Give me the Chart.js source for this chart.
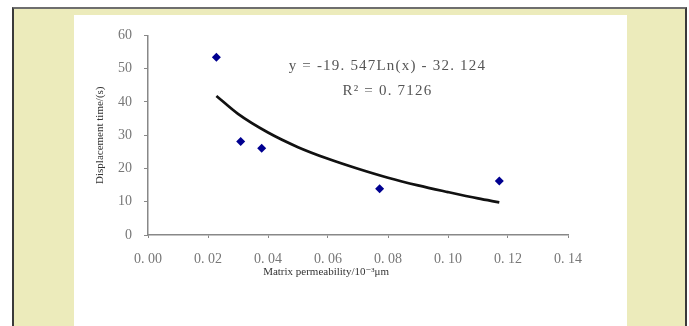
<!DOCTYPE html>
<html>
<head>
<meta charset="utf-8">
<script src="https://cdn.jsdelivr.net/npm/chart.js@4"></script>
<style>
  html, body { margin: 0; background: #fff; overflow: hidden; }
  #frame {
    position: absolute; left: 12px; top: 7px; width: 675px; height: 330px;
    box-sizing: border-box; background: #ecebbb;
    border-top: 2px solid #6e6e6e; border-left: 2px solid #3a3a3a; border-right: 2px solid #3a3a3a;
  }
  #panel { position: absolute; left: 74px; top: 15px; width: 553px; height: 311px; background: #fff; }
</style>
</head>
<body>
<div id="frame"></div>
<div id="panel"><canvas id="chart" width="553" height="311"></canvas></div>
<script>
// measured points
const permeability = [0.0228, 0.0309, 0.0379, 0.0772, 0.1171];
const displacementTime = [53.4, 28.1, 26.1, 13.9, 16.2];

// logarithmic trend line
const trendX = [0.0228, 0.03, 0.04, 0.05, 0.06, 0.07, 0.08, 0.09, 0.10, 0.11, 0.1171];
const trendY = [41.8, 36.4, 30.8, 26.4, 22.9, 19.9, 17.2, 14.9, 12.9, 11.0, 9.8];

const xTickValues = [0, 0.02, 0.04, 0.06, 0.08, 0.10, 0.12, 0.14];
const yTickValues = [0, 10, 20, 30, 40, 50, 60];

const equationText = 'y = -19. 547Ln(x) - 32. 124';
const rSquaredText = 'R² = 0. 7126';
const xTitle = 'Matrix permeability/10⁻³μm';
const yTitle = 'Displacement time/(s)';

const serif = '"Liberation Serif", "DejaVu Serif", serif';

// equation and x-axis title are placed off-centre, so draw them here
const annotationText = {
  id: 'annotationText',
  afterDraw(chart) {
    const { ctx, chartArea: a } = chart;
    const w = a.right - a.left;
    ctx.save();
    ctx.textAlign = 'center';
    ctx.textBaseline = 'middle';
    ctx.fillStyle = '#555';
    ctx.font = '15px ' + serif;
    ctx.letterSpacing = '1.2px';
    ctx.fillText(equationText, a.left + 0.57 * w, a.top + 31);
    ctx.fillText(rSquaredText, a.left + 0.57 * w, a.top + 56);
    ctx.letterSpacing = '0px';
    ctx.fillStyle = '#333';
    ctx.font = '11px ' + serif;
    ctx.fillText(xTitle, a.left + 0.424 * w, a.bottom + 37);
    ctx.restore();
  }
};

new Chart(document.getElementById('chart'), {
  type: 'scatter',
  data: {
    datasets: [
      {
        data: permeability.map((x, i) => ({ x, y: displacementTime[i] })),
        pointStyle: 'rectRot',
        pointRadius: 4.5,
        backgroundColor: '#000090',
        borderColor: '#000090',
        borderWidth: 0,
      },
      {
        data: trendX.map((x, i) => ({ x, y: trendY[i] })),
        showLine: true,
        pointRadius: 0,
        borderColor: '#111',
        borderWidth: 2.7,
        cubicInterpolationMode: 'monotone',
      },
    ],
  },
  options: {
    responsive: false,
    animation: false,
    layout: { padding: { left: 20, right: 59, top: 17, bottom: 0 } },
    plugins: { legend: { display: false }, tooltip: { enabled: false } },
    scales: {
      x: {
        type: 'linear',
        min: 0,
        max: 0.14,
        afterBuildTicks: (s) => { s.ticks = xTickValues.map((v) => ({ value: v })); },
        afterFit: (s) => { s.height = 91; },
        grid: { drawOnChartArea: false, tickLength: 3, color: '#888' },
        border: { color: '#888', width: 1.5 },
        ticks: {
          padding: 13,
          color: '#777',
          font: { family: serif, size: 14 },
          maxRotation: 0,
          callback: (v) => v.toFixed(2).replace('.', '. '),
        },
      },
      y: {
        min: 0,
        max: 60,
        afterBuildTicks: (s) => { s.ticks = yTickValues.map((v) => ({ value: v })); },
        afterFit: (s) => { s.width = 54; },
        grid: { drawOnChartArea: false, tickLength: 4, color: '#888' },
        border: { color: '#888', width: 1.5 },
        ticks: { padding: 12, color: '#777', font: { family: serif, size: 14 } },
        title: {
          display: true,
          text: yTitle,
          color: '#333',
          font: { family: serif, size: 11 },
          padding: { top: 0, bottom: 0 },
        },
      },
    },
  },
  plugins: [annotationText],
});
</script>
</body>
</html>
